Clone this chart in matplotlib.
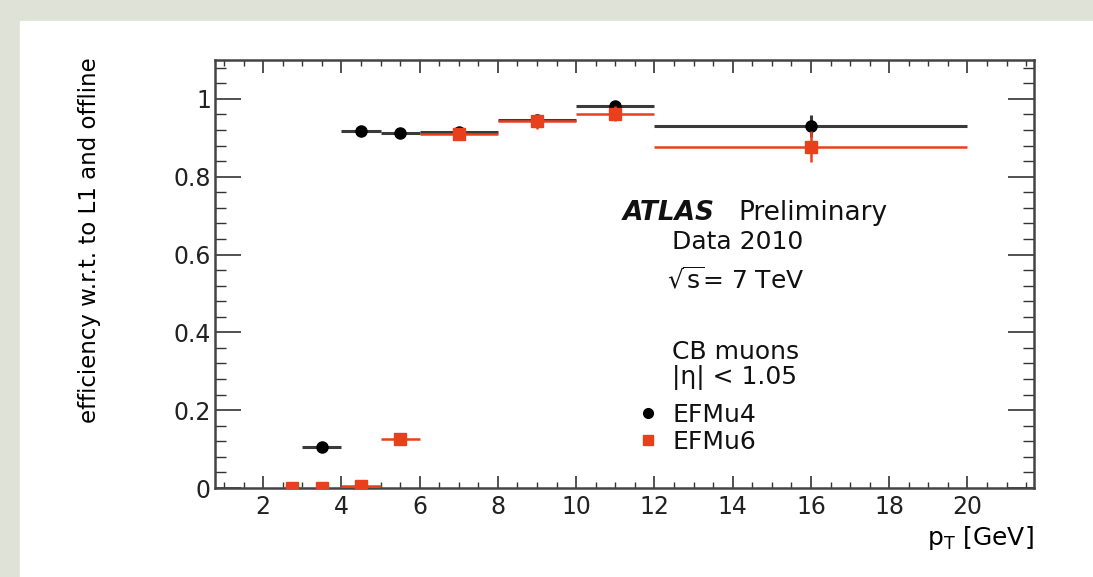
import matplotlib
matplotlib.use('Agg')
import matplotlib.pyplot as plt
from matplotlib.patches import Rectangle
from matplotlib.ticker import MultipleLocator
import numpy as np

plt.rcParams['font.family'] = ['DejaVu Sans']
plt.rcParams['mathtext.fontset'] = 'dejavusans'

# pT bins [GeV]
bin_lo = [2.5, 3, 4, 5, 6, 8, 10, 12]
bin_hi = [3, 4, 5, 6, 8, 10, 12, 20]

# EFMu4 efficiency
eff_mu4 = [0.0, 0.105, 0.918, 0.913, 0.915, 0.945, 0.982, 0.930]
err_mu4 = [0.005, 0.01, 0.01, 0.01, 0.01, 0.015, 0.01, 0.028]

# EFMu6 efficiency
eff_mu6 = [0.0, 0.0, 0.005, 0.126, 0.910, 0.942, 0.962, 0.877]
err_mu6 = [0.005, 0.005, 0.005, 0.01, 0.015, 0.02, 0.02, 0.04]

red = '#e8401c'

lo = np.array(bin_lo)
hi = np.array(bin_hi)
centers = (lo + hi) / 2
halfw = (hi - lo) / 2

fig = plt.figure(figsize=(10.93, 5.77), dpi=100)
fig.patch.set_facecolor('#dfe2d6')
fig.add_artist(Rectangle((20 / 1093, 0), 1, (577 - 21) / 577,
                         transform=fig.transFigure, color='white', zorder=-10))

ax = fig.add_axes([215 / 1093, 89 / 577, 819 / 1093, 428 / 577])
ax.set_zorder(1)
ax.patch.set_alpha(0)


def fx(px):
    return (px - 215) / 819


def fy(py):
    return (488 - py) / 428


ax.errorbar(centers, eff_mu4, xerr=halfw, yerr=err_mu4, fmt='o', color='black',
            ecolor='#3a3a3a', elinewidth=2.2, ms=8, capsize=0, zorder=3)
ax.errorbar(centers, eff_mu6, xerr=halfw, yerr=err_mu6, fmt='s', color=red,
            ecolor=red, elinewidth=1.8, ms=8, capsize=0, zorder=4)

ax.set_xlim(0.77, 21.7)
ax.set_ylim(0, 1.1)
ax.xaxis.set_minor_locator(MultipleLocator(0.5))
ax.yaxis.set_minor_locator(MultipleLocator(0.04))
ax.set_yticks([0, 0.2, 0.4, 0.6, 0.8, 1.0])
ax.set_yticklabels(['0', '0.2', '0.4', '0.6', '0.8', '1'])
ax.set_xticks(range(2, 21, 2))

ax.tick_params(axis='both', which='both', direction='in', top=True, right=True,
               labelsize=17, colors='#333333', labelcolor='#222222')
ax.tick_params(axis='y', which='major', length=19, width=1.2, pad=3)
ax.tick_params(axis='y', which='minor', length=8, width=1)
ax.tick_params(axis='x', which='major', length=9, width=1.2, pad=5)
ax.tick_params(axis='x', which='minor', length=4.5, width=1)
for sp in ax.spines.values():
    sp.set_linewidth(1.8)
    sp.set_color('#444444')

ax.set_ylabel('efficiency w.r.t. to L1 and offline', fontsize=16.5)
ax.yaxis.set_label_coords(fx(101), fy(240))
ax.set_xlabel(r'p$_{\mathrm{T}}$ [GeV]', fontsize=18, loc='right', labelpad=4)

txt = dict(transform=ax.transAxes, fontsize=18, va='center', color='#111111')
ax.text(fx(623), fy(213), 'ATLAS', fontweight='bold', fontstyle='italic',
        **dict(txt, fontsize=19))
ax.text(fx(738), fy(213), 'Preliminary', **dict(txt, fontsize=19))
ax.text(fx(672), fy(242), 'Data 2010', **txt)
ax.text(fx(667), fy(280), r'$\sqrt{\mathrm{s}}$= 7 TeV', **txt)
ax.text(fx(672), fy(352), 'CB muons', **txt)
ax.text(fx(672), fy(378), '|η| < 1.05', **txt)

# legend
ax.plot([fx(648)], [fy(413)], 'o', color='black', ms=7, transform=ax.transAxes, clip_on=False)
ax.plot([fx(648)], [fy(440)], 's', color=red, ms=6.5, transform=ax.transAxes, clip_on=False)
ax.text(fx(673), fy(415), 'EFMu4', **txt)
ax.text(fx(673), fy(442), 'EFMu6', **txt)

fig.savefig('out.png', dpi=100, facecolor=fig.get_facecolor())
